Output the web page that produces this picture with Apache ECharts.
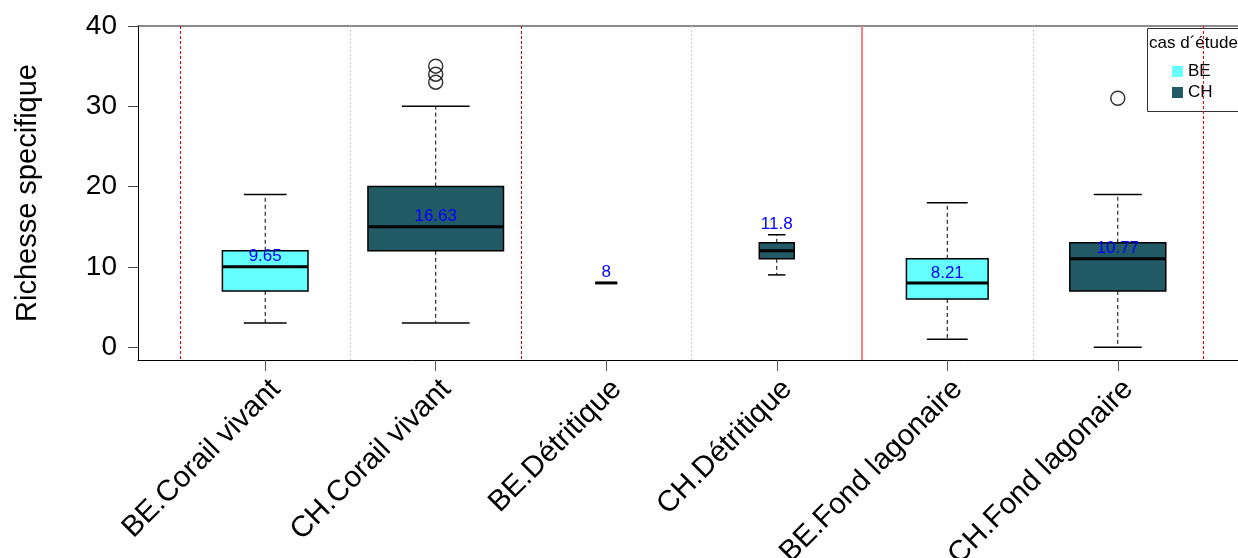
<!DOCTYPE html>
<html>
<head>
<meta charset="utf-8">
<title>Richesse specifique par habitat</title>
<script src="https://cdn.jsdelivr.net/npm/echarts@6/dist/echarts.min.js"></script>
<style>
  html, body { margin: 0; padding: 0; background: #fff; }
  #chart { width: 1238px; height: 558px; }
</style>
</head>
<body>
<div id="chart"></div>
<script>
// ---- data ---------------------------------------------------------------
const categories = ['BE.Corail vivant', 'CH.Corail vivant', 'BE.Détritique',
                    'CH.Détritique', 'BE.Fond lagonaire', 'CH.Fond lagonaire'];
const groups = ['BE', 'CH', 'BE', 'CH', 'BE', 'CH'];
const whiskerLow  = [3, 3, 8, 9, 1, 0];
const q1          = [7, 12, 8, 11, 6, 7];
const median      = [10, 15, 8, 12, 8, 11];
const q3          = [12, 20, 8, 13, 11, 13];
const whiskerHigh = [19, 30, 8, 14, 18, 19];
const means       = [9.65, 16.63, 8, 11.8, 8.21, 10.77];
const outlierGroup = [2, 2, 2, 6];
const outlierValue = [33, 34, 35, 31];
const yTicks = [0, 10, 20, 30, 40];
const legendTitle = 'cas d\u00b4étude';

// ---- styling ------------------------------------------------------------
const FONT = "'Liberation Sans', Arial, Helvetica, sans-serif";
const GROUP_COLOR = { BE: '#66FFFF', CH: '#225A66' };
// box widths in x-axis units (variable-width boxes)
const BOX_WIDTH = [0.502, 0.795, 0.129, 0.205, 0.479, 0.563];
// pixel shift of each mean label relative to its mean
const LABEL_SHIFT = [-13, 3, -11, -28, -8, -12];
// group separators: dashed red, dotted grey, solid light red
const SEPARATOR_STYLE = [
  { stroke: '#FF0000', lineDash: [3, 2], lineWidth: 1 },
  { stroke: '#CFCFCF', lineDash: [2, 2], lineWidth: 1 },
  { stroke: '#D00000', lineDash: [3, 2], lineWidth: 1 },
  { stroke: '#CFCFCF', lineDash: [2, 2], lineWidth: 1 },
  { stroke: '#FF8080', lineDash: null,   lineWidth: 2 },
  { stroke: '#CFCFCF', lineDash: [2, 2], lineWidth: 1 },
  { stroke: '#FF0000', lineDash: [3, 2], lineWidth: 1 }
];

const positions = categories.map((_, i) => i + 1);
const boundaries = [0.5].concat(positions.map(p => p + 0.5));

const X_MIN = 0.254, X_MAX = 6.705;
const Y_MIN = -1.6, Y_MAX = 40;

function boxData(group) {
  const rows = [];
  categories.forEach((_, i) => {
    if (groups[i] !== group) return;
    rows.push([positions[i], whiskerLow[i], q1[i], median[i], q3[i], whiskerHigh[i], means[i]]);
  });
  return rows;
}

function renderBox(params, api) {
  const pos = api.value(0);
  const k = pos - 1;
  const color = GROUP_COLOR[groups[k]];
  const xc = api.coord([pos, 0])[0];
  const w = api.size([BOX_WIDTH[k], 0])[0];
  const half = w / 2;
  const cap = w / 4;
  const y = v => api.coord([pos, v])[1];
  const yLow = y(api.value(1)), yQ1 = y(api.value(2)), yMed = y(api.value(3));
  const yQ3 = y(api.value(4)), yHigh = y(api.value(5));
  const meanVal = api.value(6);
  const dashed = { stroke: '#000', lineWidth: 1, lineDash: [4, 3] };
  const solid = { stroke: '#000', lineWidth: 1.5 };
  return {
    type: 'group',
    children: [
      { type: 'line', shape: { x1: xc, y1: yQ3, x2: xc, y2: yHigh }, style: dashed },
      { type: 'line', shape: { x1: xc, y1: yQ1, x2: xc, y2: yLow }, style: dashed },
      { type: 'line', shape: { x1: xc - cap, y1: yHigh, x2: xc + cap, y2: yHigh }, style: solid },
      { type: 'line', shape: { x1: xc - cap, y1: yLow, x2: xc + cap, y2: yLow }, style: solid },
      { type: 'rect', shape: { x: xc - half, y: yQ3, width: w, height: yQ1 - yQ3 },
        style: { fill: color, stroke: '#000', lineWidth: 1.5 } },
      { type: 'line', shape: { x1: xc - half, y1: yMed, x2: xc + half, y2: yMed },
        style: { stroke: '#000', lineWidth: 3 } },
      { type: 'text',
        style: { text: String(meanVal), x: xc, y: y(meanVal) + LABEL_SHIFT[k],
                 align: 'center', verticalAlign: 'middle',
                 fill: '#0000FF', font: '17px ' + FONT } }
    ]
  };
}

function renderSeparator(params, api) {
  const xv = api.value(0);
  const top = api.coord([xv, Y_MAX]);
  const bottom = api.coord([xv, Y_MIN]);
  const s = SEPARATOR_STYLE[params.dataIndex];
  const x = Math.round(top[0]) + (s.lineWidth % 2 ? 0.5 : 0);
  return {
    type: 'line',
    shape: { x1: x, y1: top[1], x2: x, y2: bottom[1] },
    style: { stroke: s.stroke, lineWidth: s.lineWidth, lineDash: s.lineDash }
  };
}

const chart = echarts.init(document.getElementById('chart'), null, { renderer: 'canvas' });

const option = {
  animation: false,
  backgroundColor: '#ffffff',
  grid: { left: 138, top: 26, width: 1100, height: 334, containLabel: false, outerBoundsMode: 'none' },
  xAxis: [
    {
      type: 'value', min: X_MIN, max: X_MAX, position: 'bottom',
      axisLine: { show: true, onZero: false, lineStyle: { color: '#000', width: 1 } },
      axisTick: { show: true, customValues: positions, length: 11, lineStyle: { color: '#555' } },
      axisLabel: {
        show: true, customValues: positions,
        formatter: v => categories[Math.round(v) - 1],
        rotate: 45, margin: 14, verticalAlign: 'top',
        fontSize: 29.5, color: '#000', fontFamily: FONT
      },
      splitLine: { show: false }
    },
    {
      type: 'value', min: X_MIN, max: X_MAX, position: 'top',
      axisLine: { show: true, onZero: false, lineStyle: { color: '#666', width: 1.5 } },
      axisTick: { show: false }, axisLabel: { show: false }, splitLine: { show: false }
    }
  ],
  yAxis: {
    type: 'value', min: Y_MIN, max: Y_MAX,
    name: 'Richesse specifique', nameLocation: 'middle', nameGap: 96,
    nameTextStyle: { fontSize: 29, color: '#000', fontFamily: FONT },
    axisLine: { show: true, onZero: false, lineStyle: { color: '#000', width: 1 } },
    axisTick: { show: true, customValues: yTicks, length: 10, lineStyle: { color: '#444' } },
    axisLabel: { show: true, customValues: yTicks, margin: 21, fontSize: 28, color: '#000', fontFamily: FONT },
    splitLine: { show: false }
  },
  legend: {
    data: ['BE', 'CH'], orient: 'vertical', left: 1172, top: 63, padding: 0,
    icon: 'rect', itemWidth: 11, itemHeight: 11, itemGap: 4, itemTextGap: 10,
    textStyle: { fontSize: 17, color: '#000', fontFamily: FONT },
    selectedMode: false
  },
  graphic: [
    { type: 'rect', left: 1145, top: 26, z: 1,
      shape: { width: 130, height: 83 },
      style: { fill: 'none', stroke: '#333', lineWidth: 1 } },
    { type: 'text', left: 1149, top: 35, z: 1,
      style: { text: legendTitle, fill: '#000', font: '17px ' + FONT } }
  ],
  series: [
    {
      name: 'separators', type: 'custom', renderItem: renderSeparator,
      encode: { x: 0 }, data: boundaries.map(b => [b]), silent: true, z: 5
    },
    {
      name: 'BE', type: 'custom', renderItem: renderBox,
      itemStyle: { color: GROUP_COLOR.BE },
      encode: { x: 0, y: [1, 2, 3, 4, 5] },
      data: boxData('BE'), z: 3
    },
    {
      name: 'CH', type: 'custom', renderItem: renderBox,
      itemStyle: { color: GROUP_COLOR.CH },
      encode: { x: 0, y: [1, 2, 3, 4, 5] },
      data: boxData('CH'), z: 3
    },
    {
      name: 'outliers', type: 'scatter', z: 4,
      symbol: 'circle', symbolSize: 14,
      itemStyle: { color: 'rgba(0,0,0,0)', borderColor: '#000', borderWidth: 1.5 },
      data: outlierGroup.map((g, i) => [g, outlierValue[i]])
    }
  ]
};

chart.setOption(option);
</script>
</body>
</html>
